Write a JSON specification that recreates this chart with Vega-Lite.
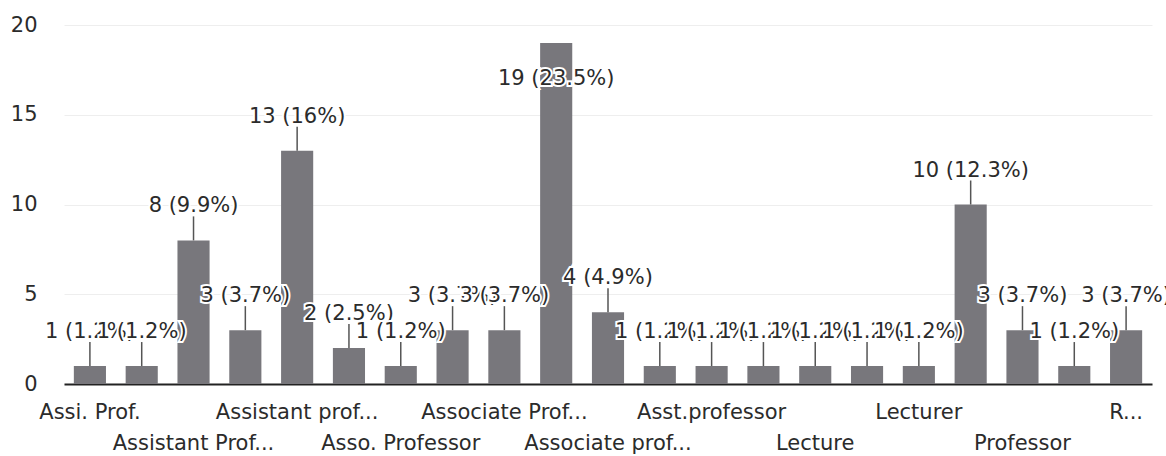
{
  "$schema": "https://vega.github.io/schema/vega-lite/v6.json",
  "width": 1088,
  "height": 359,
  "autosize": {"type": "none"},
  "padding": {"left": 64, "top": 25, "right": 14, "bottom": 72},
  "background": "white",
  "config": {"view": {"stroke": null}, "font": "DejaVu Sans"},
  "data": {
    "values": [
      {"i": 1, "role": "Assi. Prof.", "count": 1, "label": "1 (1.2%)"},
      {"i": 2, "role": "Assist. Prof.", "count": 1, "label": "1 (1.2%)"},
      {"i": 3, "role": "Assistant Prof...", "count": 8, "label": "8 (9.9%)"},
      {"i": 4, "role": "Assistant Professor.", "count": 3, "label": "3 (3.7%)"},
      {"i": 5, "role": "Assistant prof...", "count": 13, "label": "13 (16%)"},
      {"i": 6, "role": "Asso. Prof.", "count": 2, "label": "2 (2.5%)"},
      {"i": 7, "role": "Asso. Professor", "count": 1, "label": "1 (1.2%)"},
      {"i": 8, "role": "Assoc. Professor", "count": 3, "label": "3 (3.7%)"},
      {"i": 9, "role": "Associate Prof...", "count": 3, "label": "3 (3.7%)"},
      {"i": 10, "role": "Associate Professor.", "count": 19, "label": "19 (23.5%)"},
      {"i": 11, "role": "Associate prof...", "count": 4, "label": "4 (4.9%)"},
      {"i": 12, "role": "Asst. Prof.", "count": 1, "label": "1 (1.2%)"},
      {"i": 13, "role": "Asst.professor", "count": 1, "label": "1 (1.2%)"},
      {"i": 14, "role": "Head", "count": 1, "label": "1 (1.2%)"},
      {"i": 15, "role": "Lecture", "count": 1, "label": "1 (1.2%)"},
      {"i": 16, "role": "Lecture.", "count": 1, "label": "1 (1.2%)"},
      {"i": 17, "role": "Lecturer", "count": 1, "label": "1 (1.2%)"},
      {"i": 18, "role": "Lecturer.", "count": 10, "label": "10 (12.3%)"},
      {"i": 19, "role": "Professor", "count": 3, "label": "3 (3.7%)"},
      {"i": 20, "role": "Professor & HOD", "count": 1, "label": "1 (1.2%)"},
      {"i": 21, "role": "R...", "count": 3, "label": "3 (3.7%)"}
    ]
  },
  "encoding": {
    "x": {
      "field": "role",
      "type": "nominal",
      "sort": null,
      "scale": {"paddingInner": 0.38, "paddingOuter": 0.19},
      "axis": {
        "title": null,
        "ticks": false,
        "tickSize": 0,
        "labelAngle": 0,
        "labelFont": "DejaVu Sans",
        "labelFontSize": 21,
        "labelColor": "#2b2b2b",
        "labelLimit": 400,
        "labelOverlap": false,
        "labelBaseline": "top",
        "domainColor": "#222222",
        "domainWidth": 2,
        "labelExpr": "indexof(['Assi. Prof.','Assistant prof...','Associate Prof...','Asst.professor','Lecturer','R...','Assistant Prof...','Asso. Professor','Associate prof...','Lecture','Professor'], datum.value) >= 0 ? datum.value : ''",
        "labelPadding": {
          "condition": {
            "test": "indexof(['Assistant Prof...','Asso. Professor','Associate prof...','Lecture','Professor'], datum.value) >= 0",
            "value": 48
          },
          "value": 17
        }
      }
    }
  },
  "layer": [
    {
      "mark": {"type": "bar", "color": "#78777c"},
      "encoding": {
        "y": {
          "field": "count",
          "type": "quantitative",
          "scale": {"domain": [0, 20], "nice": false},
          "axis": {
            "title": null,
            "values": [0, 5, 10, 15, 20],
            "domain": false,
            "ticks": false,
            "tickSize": 0,
            "labelPadding": 27,
            "labelFont": "DejaVu Sans",
            "labelFontSize": 21,
            "labelColor": "#2b2b2b",
            "gridColor": "#eeeeee",
            "gridWidth": 1
          }
        }
      }
    },
    {
      "transform": [{"filter": "datum.count < 19"}],
      "mark": {"type": "rule", "color": "#555555", "strokeWidth": 1.5, "y2Offset": -24},
      "encoding": {
        "y": {"field": "count", "type": "quantitative"},
        "y2": {"field": "count"}
      }
    },
    {
      "transform": [{"filter": "datum.count < 19 && datum.i % 6 == 0"}],
      "mark": {"type": "text", "dy": -34, "baseline": "middle", "font": "DejaVu Sans", "fontSize": 21, "stroke": "white", "strokeWidth": 4, "fill": "white"},
      "encoding": {"y": {"field": "count", "type": "quantitative"}, "text": {"field": "label"}}
    },
    {
      "transform": [{"filter": "datum.count < 19 && datum.i % 6 == 0"}],
      "mark": {"type": "text", "dy": -34, "baseline": "middle", "font": "DejaVu Sans", "fontSize": 21, "color": "#2b2b2b"},
      "encoding": {"y": {"field": "count", "type": "quantitative"}, "text": {"field": "label"}}
    },
    {
      "transform": [{"filter": "datum.count < 19 && datum.i % 6 == 1"}],
      "mark": {"type": "text", "dy": -34, "baseline": "middle", "font": "DejaVu Sans", "fontSize": 21, "stroke": "white", "strokeWidth": 4, "fill": "white"},
      "encoding": {"y": {"field": "count", "type": "quantitative"}, "text": {"field": "label"}}
    },
    {
      "transform": [{"filter": "datum.count < 19 && datum.i % 6 == 1"}],
      "mark": {"type": "text", "dy": -34, "baseline": "middle", "font": "DejaVu Sans", "fontSize": 21, "color": "#2b2b2b"},
      "encoding": {"y": {"field": "count", "type": "quantitative"}, "text": {"field": "label"}}
    },
    {
      "transform": [{"filter": "datum.count < 19 && datum.i % 6 == 2"}],
      "mark": {"type": "text", "dy": -34, "baseline": "middle", "font": "DejaVu Sans", "fontSize": 21, "stroke": "white", "strokeWidth": 4, "fill": "white"},
      "encoding": {"y": {"field": "count", "type": "quantitative"}, "text": {"field": "label"}}
    },
    {
      "transform": [{"filter": "datum.count < 19 && datum.i % 6 == 2"}],
      "mark": {"type": "text", "dy": -34, "baseline": "middle", "font": "DejaVu Sans", "fontSize": 21, "color": "#2b2b2b"},
      "encoding": {"y": {"field": "count", "type": "quantitative"}, "text": {"field": "label"}}
    },
    {
      "transform": [{"filter": "datum.count < 19 && datum.i % 6 == 3"}],
      "mark": {"type": "text", "dy": -34, "baseline": "middle", "font": "DejaVu Sans", "fontSize": 21, "stroke": "white", "strokeWidth": 4, "fill": "white"},
      "encoding": {"y": {"field": "count", "type": "quantitative"}, "text": {"field": "label"}}
    },
    {
      "transform": [{"filter": "datum.count < 19 && datum.i % 6 == 3"}],
      "mark": {"type": "text", "dy": -34, "baseline": "middle", "font": "DejaVu Sans", "fontSize": 21, "color": "#2b2b2b"},
      "encoding": {"y": {"field": "count", "type": "quantitative"}, "text": {"field": "label"}}
    },
    {
      "transform": [{"filter": "datum.count < 19 && datum.i % 6 == 4"}],
      "mark": {"type": "text", "dy": -34, "baseline": "middle", "font": "DejaVu Sans", "fontSize": 21, "stroke": "white", "strokeWidth": 4, "fill": "white"},
      "encoding": {"y": {"field": "count", "type": "quantitative"}, "text": {"field": "label"}}
    },
    {
      "transform": [{"filter": "datum.count < 19 && datum.i % 6 == 4"}],
      "mark": {"type": "text", "dy": -34, "baseline": "middle", "font": "DejaVu Sans", "fontSize": 21, "color": "#2b2b2b"},
      "encoding": {"y": {"field": "count", "type": "quantitative"}, "text": {"field": "label"}}
    },
    {
      "transform": [{"filter": "datum.count < 19 && datum.i % 6 == 5"}],
      "mark": {"type": "text", "dy": -34, "baseline": "middle", "font": "DejaVu Sans", "fontSize": 21, "stroke": "white", "strokeWidth": 4, "fill": "white"},
      "encoding": {"y": {"field": "count", "type": "quantitative"}, "text": {"field": "label"}}
    },
    {
      "transform": [{"filter": "datum.count < 19 && datum.i % 6 == 5"}],
      "mark": {"type": "text", "dy": -34, "baseline": "middle", "font": "DejaVu Sans", "fontSize": 21, "color": "#2b2b2b"},
      "encoding": {"y": {"field": "count", "type": "quantitative"}, "text": {"field": "label"}}
    },
    {
      "transform": [{"filter": "datum.count >= 19"}],
      "mark": {"type": "text", "dy": 36, "baseline": "middle", "font": "DejaVu Sans", "fontSize": 21, "stroke": "white", "strokeWidth": 4, "fill": "white"},
      "encoding": {"y": {"field": "count", "type": "quantitative"}, "text": {"field": "label"}}
    },
    {
      "transform": [{"filter": "datum.count >= 19"}],
      "mark": {"type": "text", "dy": 36, "baseline": "middle", "font": "DejaVu Sans", "fontSize": 21, "color": "#2b2b2b"},
      "encoding": {"y": {"field": "count", "type": "quantitative"}, "text": {"field": "label"}}
    }
  ]
}
